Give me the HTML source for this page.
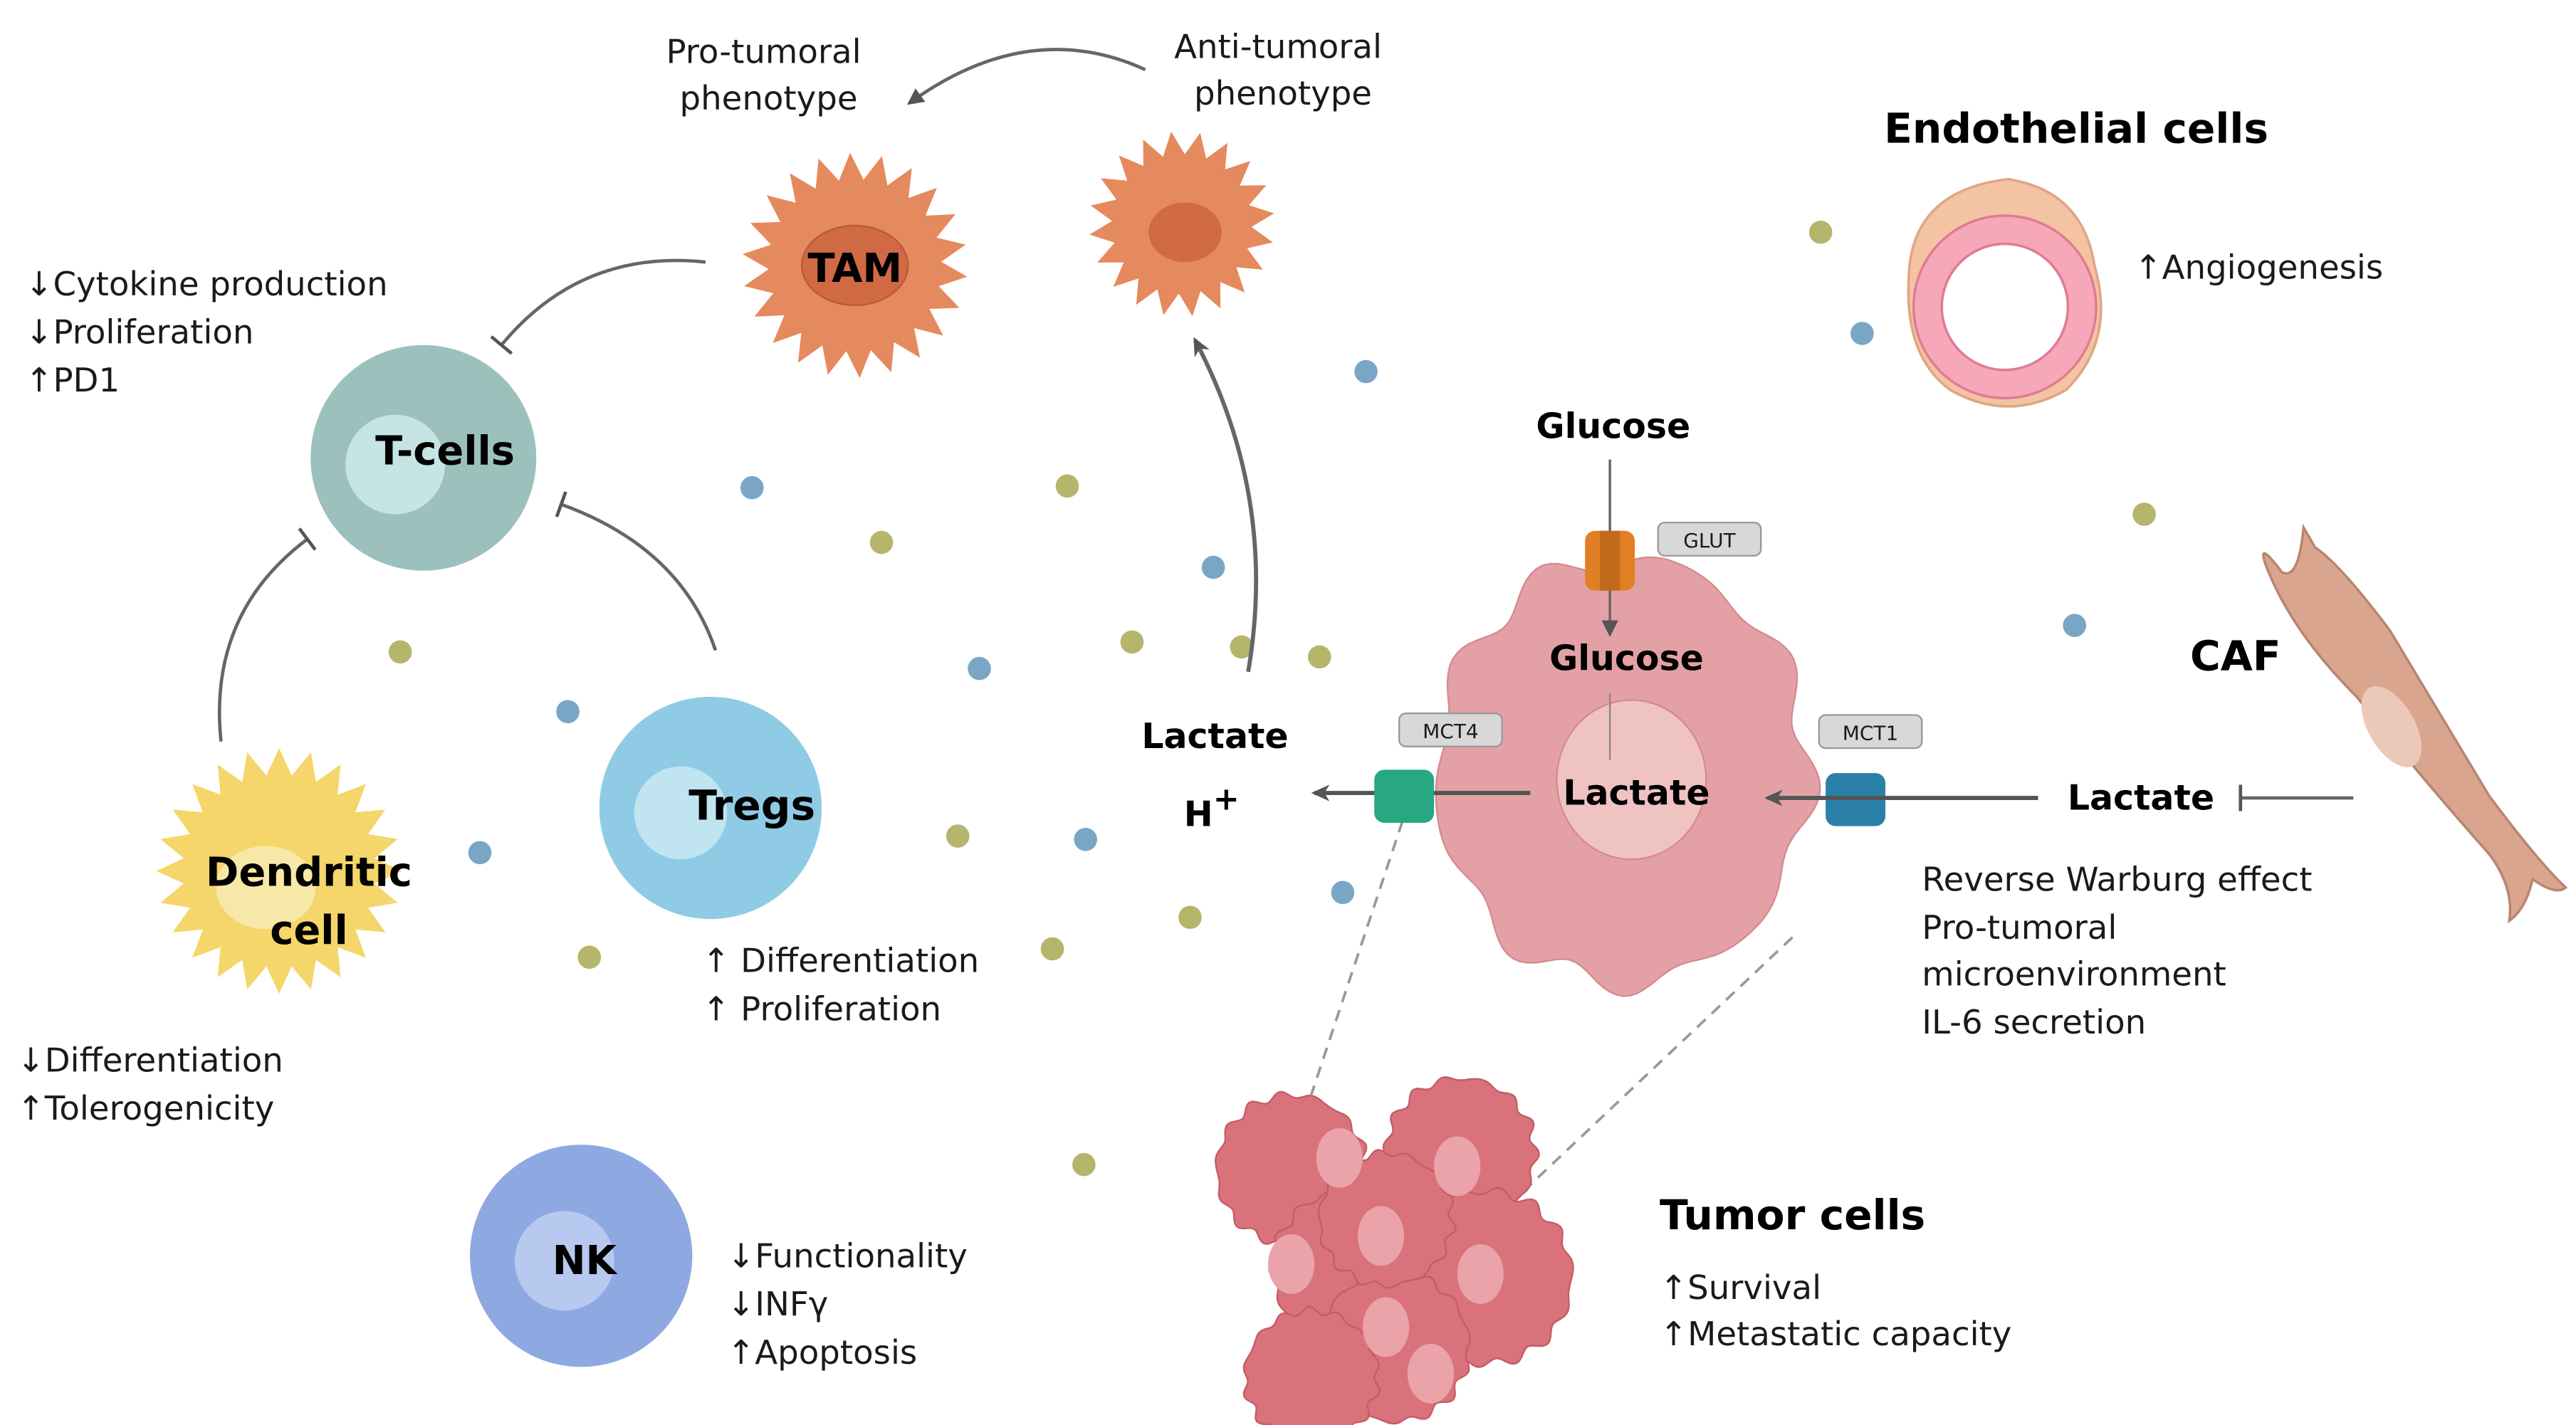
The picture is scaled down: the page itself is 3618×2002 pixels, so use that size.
<!DOCTYPE html>
<html><head><meta charset="utf-8"><style>
html,body{margin:0;padding:0;background:#fff;width:3618px;height:2002px;overflow:hidden}
svg{display:block}
text{font-family:"DejaVu Sans","Liberation Sans",sans-serif;fill:#1a1a1a}
.b{font-weight:bold;fill:#000}
</style></head><body>
<svg id="s" width="3618" height="2002" viewBox="0 0 1552 859" xmlns="http://www.w3.org/2000/svg">
<defs>
<marker id="ah" markerWidth="10" markerHeight="10" refX="8" refY="5" orient="auto" markerUnits="userSpaceOnUse"><path d="M0,0 L10,5 L0,10 Z" fill="#555"/></marker>
<marker id="ah2" markerWidth="12" markerHeight="12" refX="9" refY="6" orient="auto" markerUnits="userSpaceOnUse"><path d="M0,1 L11,6 L0,11 L3,6 Z" fill="#555"/></marker>
<marker id="tb" markerWidth="4" markerHeight="16" refX="2" refY="8" orient="auto" markerUnits="userSpaceOnUse"><rect x="1" y="0" width="2" height="16" fill="#555"/></marker>
</defs>
<g id="shapes"></g>
<g fill="#b5b56c">
<circle cx="1097" cy="140" r="7"/><circle cx="643" cy="293" r="7"/><circle cx="531" cy="327" r="7"/><circle cx="682" cy="387" r="7"/><circle cx="748" cy="390" r="7"/><circle cx="795" cy="396" r="7"/><circle cx="241" cy="393" r="7"/><circle cx="577" cy="504" r="7"/><circle cx="634" cy="572" r="7"/><circle cx="717" cy="553" r="7"/><circle cx="355" cy="577" r="7"/><circle cx="653" cy="702" r="7"/><circle cx="1292" cy="310" r="7"/>
</g>
<g fill="#7aa6c6">
<circle cx="1122" cy="201" r="7"/><circle cx="823" cy="224" r="7"/><circle cx="453" cy="294" r="7"/><circle cx="731" cy="342" r="7"/><circle cx="590" cy="403" r="7"/><circle cx="342" cy="429" r="7"/><circle cx="654" cy="506" r="7"/><circle cx="289" cy="514" r="7"/><circle cx="809" cy="538" r="7"/><circle cx="1250" cy="377" r="7"/>
</g>
<circle cx="255" cy="276" r="68" fill="#9cc1bd"/><circle cx="238" cy="280" r="30" fill="#c6e4e3"/>
<circle cx="428" cy="487" r="67" fill="#8fcbe5"/><circle cx="410" cy="490" r="28" fill="#c1e4f1"/>
<circle cx="350" cy="757" r="67" fill="#8ea9e2"/><circle cx="340" cy="760" r="30" fill="#b7c9ef"/>
<path d="M690,42 Q620,10 548,62" fill="none" stroke="#666" stroke-width="2" marker-end="url(#ah)"/>
<path d="M425,158 Q350,150 302,208" fill="none" stroke="#666" stroke-width="2" marker-end="url(#tb)"/>
<path d="M133,447 Q125,370 185,325" fill="none" stroke="#666" stroke-width="2" marker-end="url(#tb)"/>
<path d="M431,392 Q410,330 338,304" fill="none" stroke="#666" stroke-width="2" marker-end="url(#tb)"/>
<path d="M752,405 Q770,300 720,205" fill="none" stroke="#666" stroke-width="2.5" marker-end="url(#ah2)"/>
<line x1="845" y1="495" x2="790" y2="660" stroke="#999" stroke-width="1.6" stroke-dasharray="7,5"/>
<line x1="1080" y1="565" x2="918" y2="718" stroke="#999" stroke-width="1.6" stroke-dasharray="7,5"/>
<g id="shapes2"></g>
<ellipse cx="983" cy="470" rx="45" ry="48" fill="#f0c3c3" stroke="#d58a8e" stroke-width="1"/>
<line x1="970" y1="277" x2="970" y2="382" stroke="#666" stroke-width="1.5" marker-end="url(#ah)"/>
<line x1="970" y1="418" x2="970" y2="458" stroke="#888" stroke-width="1" />
<rect x="955" y="320" width="30" height="36" rx="6" fill="#e07f24"/><rect x="964" y="320" width="12" height="36" fill="#c06a1a"/>
<rect x="999" y="315" width="62" height="20" rx="4" fill="#d8d8d8" stroke="#999"/><text x="1030" y="330" font-size="12" text-anchor="middle">GLUT</text>
<line x1="922" y1="478" x2="792" y2="478" stroke="#555" stroke-width="2.5" marker-end="url(#ah2)"/>
<rect x="828" y="464" width="36" height="32" rx="6" fill="#27a882"/>
<rect x="843" y="430" width="62" height="20" rx="4" fill="#d8d8d8" stroke="#999"/><text x="874" y="445" font-size="12" text-anchor="middle">MCT4</text>
<line x1="1228" y1="481" x2="1065" y2="481" stroke="#555" stroke-width="2.5" marker-end="url(#ah2)"/>
<rect x="1100" y="466" width="36" height="32" rx="6" fill="#2b80a8"/>
<line x1="1100" y1="481" x2="1136" y2="481" stroke="#555" stroke-width="2.5"/>
<rect x="1096" y="431" width="62" height="20" rx="4" fill="#d8d8d8" stroke="#999"/><text x="1127" y="446" font-size="12" text-anchor="middle">MCT1</text>
<line x1="1418" y1="481" x2="1350" y2="481" stroke="#666" stroke-width="2" marker-end="url(#tb)"/>
<path d="M1388,318 Q1385,350 1375,345 Q1360,325 1365,340 Q1380,380 1420,420 Q1460,470 1500,515 Q1515,535 1512,555 Q1522,548 1526,530 Q1540,540 1546,535 Q1530,520 1500,480 Q1470,430 1440,380 Q1410,340 1395,330 Z" fill="#d9a58f" stroke="#b88570" stroke-width="1.5"/>
<ellipse cx="1441" cy="438" rx="14" ry="27" transform="rotate(-30 1441 438)" fill="#ecc8b8"/>
<path d="M1150,170 Q1150,115 1210,108 Q1255,115 1262,160 Q1275,205 1245,235 Q1210,255 1175,235 Q1148,215 1150,170 Z" fill="#f3c3a3" stroke="#e0a585" stroke-width="1.5"/>
<circle cx="1208" cy="185" r="55" fill="#f6a7b8" stroke="#e07b94" stroke-width="1.5"/>
<circle cx="1208" cy="185" r="38" fill="#fff" stroke="#e07b94" stroke-width="1.5"/>
<g font-size="20">
<text x="460" y="38" text-anchor="middle">Pro-tumoral</text><text x="463" y="66" text-anchor="middle">phenotype</text>
<text x="770" y="35" text-anchor="middle">Anti-tumoral</text><text x="773" y="63" text-anchor="middle">phenotype</text>
<text x="15" y="178">↓Cytokine production</text><text x="15" y="207">↓Proliferation</text><text x="15" y="236">↑PD1</text>
<text x="10" y="646">↓Differentiation</text><text x="10" y="675">↑Tolerogenicity</text>
<text x="423" y="586">↑ Differentiation</text><text x="423" y="615">↑ Proliferation</text>
<text x="438" y="764">↓Functionality</text><text x="438" y="793">↓INFγ</text><text x="438" y="822">↑Apoptosis</text>
<text x="1286" y="168">↑Angiogenesis</text>
<text x="1158" y="537">Reverse Warburg effect</text><text x="1158" y="566">Pro-tumoral</text><text x="1158" y="594">microenvironment</text><text x="1158" y="623">IL-6 secretion</text>
<text x="1000" y="783">↑Survival</text><text x="1000" y="811">↑Metastatic capacity</text>
</g>
<g class="b">
<text class="b" x="515" y="170" font-size="24" text-anchor="middle">TAM</text>
<text class="b" x="268" y="280" font-size="24" text-anchor="middle">T-cells</text>
<text class="b" x="453" y="494" font-size="25" text-anchor="middle">Tregs</text>
<text class="b" x="186" y="534" font-size="24" text-anchor="middle">Dendritic</text>
<text class="b" x="186" y="569" font-size="24" text-anchor="middle">cell</text>
<text class="b" x="352" y="768" font-size="24" text-anchor="middle">NK</text>
<text class="b" x="1251" y="86" font-size="25" text-anchor="middle">Endothelial cells</text>
<text class="b" x="972" y="264" font-size="21" text-anchor="middle">Glucose</text>
<text class="b" x="980" y="404" font-size="21" text-anchor="middle">Glucose</text>
<text class="b" x="986" y="485" font-size="21" text-anchor="middle">Lactate</text>
<text class="b" x="732" y="451" font-size="21" text-anchor="middle">Lactate</text>
<text class="b" x="730" y="498" font-size="21" text-anchor="middle">H<tspan dy="-10" font-size="19">+</tspan></text>
<text class="b" x="1290" y="488" font-size="21" text-anchor="middle">Lactate</text>
<text class="b" x="1347" y="404" font-size="25" text-anchor="middle">CAF</text>
<text class="b" x="1000" y="741" font-size="25">Tumor cells</text>
</g>
</svg>
<script>
var NS="http://www.w3.org/2000/svg";
function el(g,tag,a){var e=document.createElementNS(NS,tag);for(var k in a)e.setAttribute(k,a[k]);g.appendChild(e);return e;}
function spiky(cx,cy,r,n,amp,ph){var d="";for(var i=0;i<n*2;i++){var a=i*Math.PI/n+(ph||0);var rr=i%2?r:r+amp;d+=(i?"L":"M")+(cx+rr*Math.cos(a)).toFixed(1)+","+(cy+rr*Math.sin(a)).toFixed(1);}return d+"Z";}
function wavy(cx,cy,rx,ry,n,amp,seed){var d="";var N=180;for(var i=0;i<=N;i++){var a=i/N*2*Math.PI;var k=1+amp*Math.sin(n*a+seed)+amp*0.5*Math.sin((n+3)*a+seed*2);var x=cx+rx*k*Math.cos(a),y=cy+ry*k*Math.sin(a);d+=(i?"L":"M")+x.toFixed(1)+","+y.toFixed(1);}return d+"Z";}
var s=document.getElementById("shapes");
el(s,"path",{d:spiky(515,160,52,22,16,0.1),fill:"#e58a5e"});
el(s,"ellipse",{cx:515,cy:160,rx:32,ry:24,fill:"#d06a45",stroke:"#b85a3a"});
el(s,"path",{d:spiky(712,135,42,20,14,0.2),fill:"#e58a5e"});
el(s,"ellipse",{cx:714,cy:140,rx:22,ry:18,fill:"#d06a45"});
el(s,"path",{d:spiky(168,525,58,24,16,0),fill:"#f4d66a"});
el(s,"ellipse",{cx:160,cy:535,rx:30,ry:25,fill:"#f8e8a8"});
var s2=document.getElementById("shapes2");
el(s2,"path",{d:wavy(978,465,112,128,9,0.045,0.5),fill:"#e4a1a5",stroke:"#d48a90"});
var tc=[[778,705,45],[880,695,45],[815,765,48],[895,770,52],[840,812,45],[790,830,40],[835,735,40]];
var nuc=[[807,698],[878,703],[778,762],[832,745],[892,768],[835,800],[862,828]];
tc.forEach(function(c,i){el(s2,"path",{d:wavy(c[0],c[1],c[2],c[2],14,0.04,i),fill:"#d9727a",stroke:"#c25c66"});});
nuc.forEach(function(c){el(s2,"ellipse",{cx:c[0],cy:c[1],rx:14,ry:18,fill:"#eaa3a8"});});
</script>
</body></html>
